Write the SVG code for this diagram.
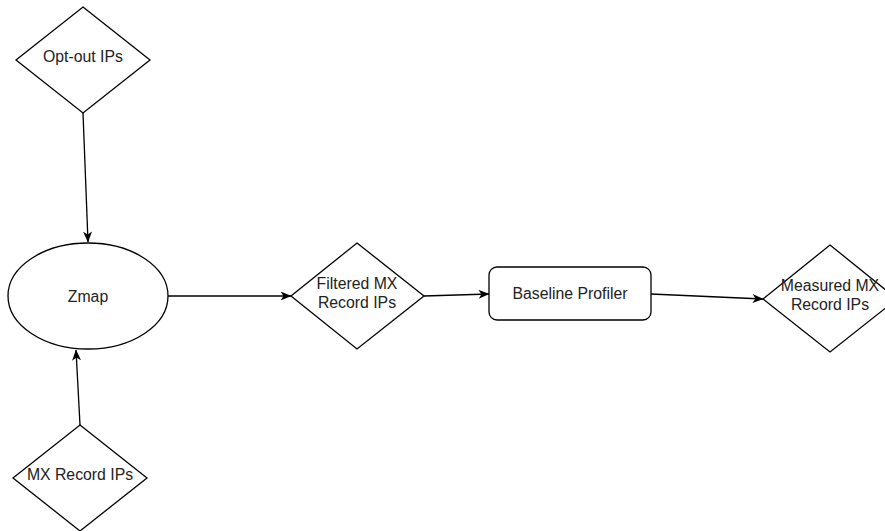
<svg xmlns="http://www.w3.org/2000/svg" width="885" height="531" viewBox="0 0 885 531">
<defs>
<style>
.shape{fill:#fff;stroke:#000;stroke-width:1.3}
.edge{fill:none;stroke:#000;stroke-width:1.3}
text{font-family:"Liberation Sans",Arial,sans-serif;font-size:15.8px;fill:#222;text-anchor:middle}
</style>
<marker id="arr" viewBox="0 0 11 9" refX="10.5" refY="4.5" markerWidth="11" markerHeight="9" markerUnits="userSpaceOnUse" orient="auto">
<path d="M0,0 L11,4.5 L0,9 L3,4.5 Z" fill="#000"/>
</marker>
</defs>
<rect width="885" height="531" fill="#fff"/>
<g id="connectors">
<path class="edge" d="M83,113 L88,242" marker-end="url(#arr)"/>
<path class="edge" d="M80,425 L76,350" marker-end="url(#arr)"/>
<path class="edge" d="M168,296 L291,296" marker-end="url(#arr)"/>
<path class="edge" d="M424,296 L489,294" marker-end="url(#arr)"/>
<path class="edge" d="M651,294 L763,299" marker-end="url(#arr)"/>
</g>
<g id="optout">
<polygon class="shape" points="83,7 150,60 83,113 16,60"/>
<text x="83" y="62">Opt-out IPs</text>
</g>
<g id="zmap">
<ellipse class="shape" cx="88" cy="296" rx="80" ry="53"/>
<text x="88" y="301.5">Zmap</text>
</g>
<g id="mxrecord">
<polygon class="shape" points="80,425 147,478 80,531 13,478"/>
<text x="80" y="480">MX Record IPs</text>
</g>
<g id="filtered">
<polygon class="shape" points="357,243 424,296 357,349 291,296"/>
<text x="357" y="288.5">Filtered MX</text>
<text x="357" y="307.5">Record IPs</text>
</g>
<g id="profiler">
<rect class="shape" x="489" y="267" width="162" height="53" rx="8"/>
<text x="570" y="298.5">Baseline Profiler</text>
</g>
<g id="measured">
<polygon class="shape" points="830,245 897,299 830,352 763,299"/>
<text x="830" y="291">Measured MX</text>
<text x="830" y="309.5">Record IPs</text>
</g>
</svg>
